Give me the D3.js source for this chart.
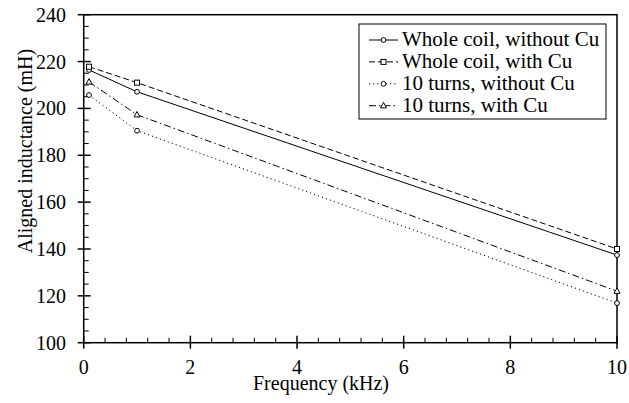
<!DOCTYPE html>
<html><head>
<script src="https://cdn.jsdelivr.net/npm/d3@7"></script>
</head><body style="margin:0">
<script>
const frequencies = [0.1, 1, 10];
const seriesNames = ["Whole coil, without Cu", "Whole coil, with Cu", "10 turns, without Cu", "10 turns, with Cu"];
const wholeNoCu = [216.4, 207.1, 137.4];
const wholeCu = [217.8, 211.0, 140.0];
const turnsNoCu = [205.7, 190.5, 116.9];
const turnsCu = [211.3, 197.3, 122.0];
const xTicks = [0, 2, 4, 6, 8, 10];
const yTicks = [100, 120, 140, 160, 180, 200, 220, 240];

const W = 629, H = 403;
const FONT = "'Liberation Serif'";
const m = {l: 83.7, r: 617, t: 14.7, b: 342.7};
const svg = d3.select("body").append("svg").attr("width", W).attr("height", H).style("display", "block");
const x = d3.scaleLinear().domain([0, 10]).range([m.l, m.r]);
const y = d3.scaleLinear().domain([100, 240]).range([m.b, m.t]);

const styles = [
  {data: wholeNoCu, dash: null, marker: "circle"},
  {data: wholeCu, dash: "6,3", marker: "square"},
  {data: turnsNoCu, dash: "1.2,3", marker: "circle"},
  {data: turnsCu, dash: "7,3,1.5,3", marker: "triangle"}
];

function txt(sel) { return sel.style("font-family", FONT).attr("font-family", "Liberation Serif").attr("fill", "#000"); }

// frame
svg.append("rect").attr("x", m.l).attr("y", m.t).attr("width", m.r - m.l).attr("height", m.b - m.t)
  .attr("fill", "none").attr("stroke", "#000").attr("stroke-width", 1.5);

// x ticks
const xMinor = d3.range(0, 10.001, 0.4).filter(v => !xTicks.some(t => Math.abs(t - v) < 1e-6));
svg.append("g").selectAll("line").data(xMinor).join("line")
  .attr("x1", d => x(d)).attr("x2", d => x(d)).attr("y1", m.b).attr("y2", m.b - 5)
  .attr("stroke", "#000").attr("stroke-width", 1);
svg.append("g").selectAll("line").data(xTicks).join("line")
  .attr("x1", d => x(d)).attr("x2", d => x(d)).attr("y1", m.b + 6).attr("y2", m.b - 7)
  .attr("stroke", "#000").attr("stroke-width", 1.5);
txt(svg.append("g").selectAll("text").data(xTicks).join("text")
  .attr("x", d => x(d)).attr("y", 374).attr("text-anchor", "middle").attr("font-size", 20)).text(d => d);

// y ticks
const yMinor = d3.range(100, 240.001, 5).filter(v => !yTicks.includes(v));
svg.append("g").selectAll("line").data(yMinor).join("line")
  .attr("x1", m.l).attr("x2", m.l + 5).attr("y1", d => y(d)).attr("y2", d => y(d))
  .attr("stroke", "#000").attr("stroke-width", 1);
svg.append("g").selectAll("line").data(yTicks).join("line")
  .attr("x1", m.l - 6).attr("x2", m.l + 7).attr("y1", d => y(d)).attr("y2", d => y(d))
  .attr("stroke", "#000").attr("stroke-width", 1.5);
txt(svg.append("g").selectAll("text").data(yTicks).join("text")
  .attr("x", 66).attr("y", d => y(d) + 7).attr("text-anchor", "end").attr("font-size", 20)).text(d => d);

// axis titles
txt(svg.append("text").attr("x", 321).attr("y", 390).attr("text-anchor", "middle").attr("font-size", 20)).text("Frequency (kHz)");
txt(svg.append("text").attr("transform", "translate(32,151) rotate(-90)").attr("text-anchor", "middle").attr("font-size", 20)).text("Aligned inductance (mH)");

function drawMarker(g, type, cx, cy) {
  if (type === "circle") g.append("circle").attr("cx", cx).attr("cy", cy).attr("r", 2.4).attr("fill", "#fff").attr("stroke", "#000").attr("stroke-width", 1);
  else if (type === "square") g.append("rect").attr("x", cx - 2.5).attr("y", cy - 2.5).attr("width", 5).attr("height", 5).attr("fill", "#fff").attr("stroke", "#000").attr("stroke-width", 1);
  else g.append("path").attr("d", `M${cx},${cy - 3.3}L${cx + 3},${cy + 2.2}L${cx - 3},${cy + 2.2}Z`).attr("fill", "#fff").attr("stroke", "#000").attr("stroke-width", 1);
}

const line = d3.line().x((d, i) => x(frequencies[i])).y(d => y(d));
styles.forEach(s => {
  const g = svg.append("g");
  g.append("path").attr("d", line(s.data)).attr("fill", "none").attr("stroke", "#000").attr("stroke-width", 1)
    .attr("stroke-dasharray", s.dash);
  s.data.forEach((v, i) => drawMarker(g, s.marker, x(frequencies[i]), y(v)));
});

// legend
const lg = svg.append("g");
lg.append("rect").attr("x", 359).attr("y", 24).attr("width", 247).attr("height", 95).attr("fill", "#fff").attr("stroke", "#000").attr("stroke-width", 1);
seriesNames.forEach((name, i) => {
  const by = 46 + i * 21.9;
  const ly = by - 6;
  lg.append("line").attr("x1", 369).attr("x2", 398).attr("y1", ly).attr("y2", ly).attr("stroke", "#000").attr("stroke-width", 1)
    .attr("stroke-dasharray", styles[i].dash);
  drawMarker(lg, styles[i].marker, 383.5, ly);
  txt(lg.append("text").attr("x", 402).attr("y", by).attr("font-size", 21)).text(name);
});
</script>
</body></html>
